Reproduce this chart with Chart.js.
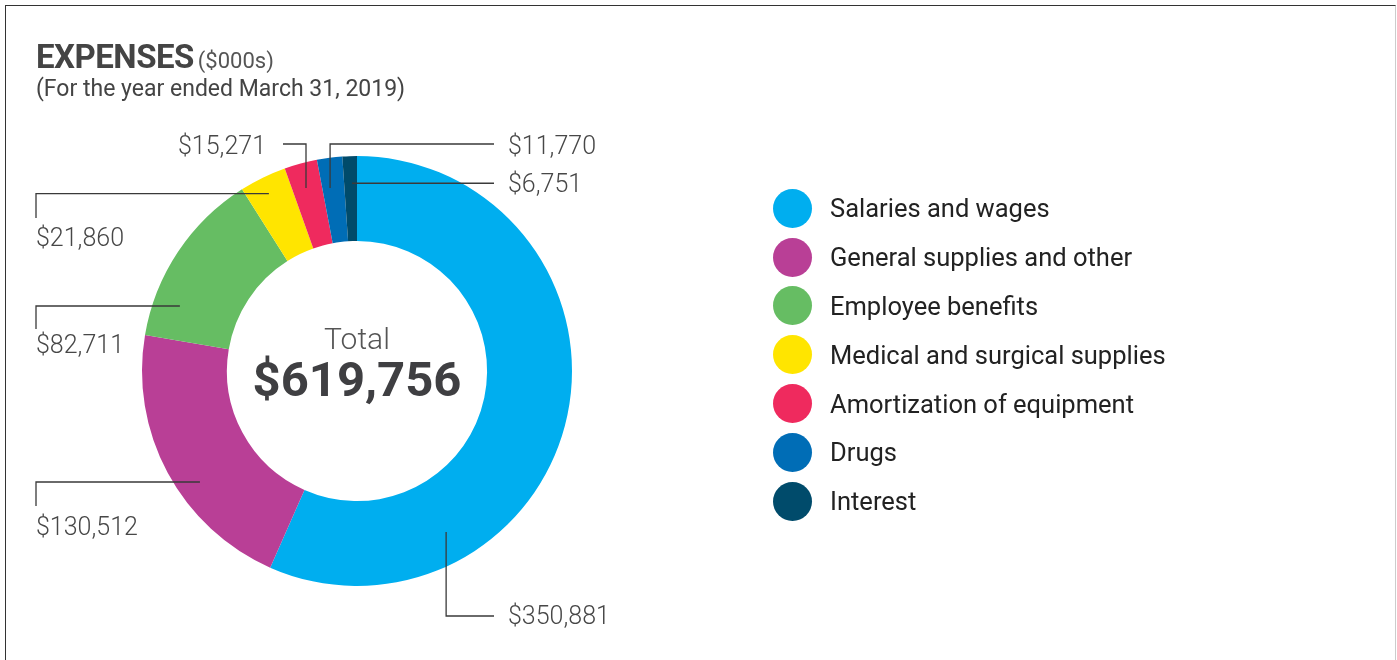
<!DOCTYPE html>
<html>
<head>
<meta charset="utf-8">
<script src="https://cdn.jsdelivr.net/npm/chart.js@4"></script>
<style>
  html, body { margin: 0; padding: 0; background: #fff; }
  body { width: 1397px; height: 660px; position: relative; overflow: hidden; font-family: Roboto, "Noto Sans", sans-serif; }
  .frame { position: absolute; left: 5px; top: 5px; width: 1389px; height: 700px; border-top: 1.5px solid #333; border-left: 1px solid #333; border-right: 1px solid #ccc; }
  #chart { position: absolute; left: 0; top: 0; }
  .title { position: absolute; left: 36px; top: 37px; color: #444; }
  .title .main { font-size: 33px; font-weight: 700; letter-spacing: -0.5px; }
  .title .unit { font-size: 22px; color: #555; }
  .title .sub { font-size: 23px; color: #444; margin-top: -1px; }
  #legend { position: absolute; left: 773px; top: 184px; }
  .item { display: flex; align-items: center; height: 48.8px; }
  .dot { width: 39px; height: 39px; border-radius: 50%; margin-right: 18px; }
  .item span { font-size: 25.5px; color: #222; }
</style>
</head>
<body>
<div class="frame"></div>
<canvas id="chart" width="1397" height="660"></canvas>
<div class="title">
  <div><span class="main">EXPENSES</span> <span class="unit">($000s)</span></div>
  <div class="sub">(For the year ended March 31, 2019)</div>
</div>
<div id="legend"></div>
<script>
const categories = ['Salaries and wages', 'General supplies and other', 'Employee benefits',
    'Medical and surgical supplies', 'Amortization of equipment', 'Drugs', 'Interest'];
const expenses = [350881, 130512, 82711, 21860, 15271, 11770, 6751];
const colors = ['#00AEEF', '#B93F96', '#66BD63', '#FFE500', '#EF2A5E', '#006DB6', '#004B6B'];

// where each callout line starts inside its slice and how it runs to the label
const callouts = [
    { t: 0.741, r: 0.635, steps: [{ y: 616 }, { x: 494 }], text: { x: 508, y: 618, align: 'left' } },
    { t: 0.408, r: 0.733, steps: [{ x: 36 }, { y: 506 }], text: { x: 36, y: 529, align: 'left' } },
    { t: 0.219, r: 0.69, steps: [{ x: 36 }, { y: 329 }], text: { x: 36, y: 347, align: 'left' } },
    { t: 0.465, r: 0.80, steps: [{ x: 36 }, { y: 218 }], text: { x: 36, y: 240, align: 'left' } },
    { t: 0.458, r: 0.706, steps: [{ y: 144 }, { x: 283 }], text: { x: 266, y: 148, align: 'right' } },
    { t: 0.35, r: 0.647, steps: [{ y: 144 }, { x: 494 }], text: { x: 508, y: 148, align: 'left' } },
    { t: 0.61, r: 0.68, steps: [{ x: 494 }], text: { x: 508, y: 186, align: 'left' } }
];

const money = v => '$' + v.toLocaleString('en-US');

const legend = document.getElementById('legend');
categories.forEach((c, i) => {
    const row = document.createElement('div');
    row.className = 'item';
    row.innerHTML = '<div class="dot" style="background:' + colors[i] + '"></div><span>' + c + '</span>';
    legend.appendChild(row);
});

const calloutPlugin = {
    id: 'callouts',
    afterDatasetsDraw(chart) {
        const ctx = chart.ctx;
        const arcs = chart.getDatasetMeta(0).data;
        ctx.save();
        arcs.forEach((arc, i) => {
            const p = arc.getProps(['x', 'y', 'startAngle', 'endAngle', 'innerRadius', 'outerRadius'], true);
            const c = callouts[i];
            const a = p.startAngle + (p.endAngle - p.startAngle) * c.t;
            const rad = p.innerRadius + (p.outerRadius - p.innerRadius) * c.r;
            let x = p.x + rad * Math.cos(a);
            let y = p.y + rad * Math.sin(a);
            ctx.beginPath();
            ctx.moveTo(x, y);
            c.steps.forEach(s => {
                if (s.x !== undefined) x = s.x;
                if (s.y !== undefined) y = s.y;
                ctx.lineTo(x, y);
            });
            ctx.strokeStyle = '#3a3a3a';
            ctx.lineWidth = 1.3;
            ctx.stroke();
            ctx.fillStyle = '#474747';
            ctx.font = '300 25px Roboto';
            ctx.textAlign = c.text.align;
            ctx.textBaseline = 'middle';
            ctx.fillText(money(expenses[i]), c.text.x, c.text.y);
        });

        const first = arcs[0];
        const total = expenses.reduce((s, v) => s + v, 0);
        ctx.textAlign = 'center';
        ctx.textBaseline = 'middle';
        ctx.fillStyle = '#555';
        ctx.font = '300 30px Roboto';
        ctx.fillText('Total', first.x, first.y - 30);
        ctx.fillStyle = '#3f3f42';
        ctx.font = 'bold 49px Roboto';
        ctx.fillText(money(total), first.x, first.y + 13);
        ctx.restore();
    }
};

new Chart(document.getElementById('chart'), {
    type: 'doughnut',
    data: {
        labels: categories,
        datasets: [{
            data: expenses,
            backgroundColor: colors,
            borderWidth: 0,
            hoverOffset: 0
        }]
    },
    options: {
        responsive: false,
        animation: false,
        cutout: '60.5%',
        layout: { padding: { left: 142, top: 156, right: 825, bottom: 74 } },
        plugins: {
            legend: { display: false },
            tooltip: { enabled: false }
        }
    },
    plugins: [calloutPlugin]
});
</script>
</body>
</html>
